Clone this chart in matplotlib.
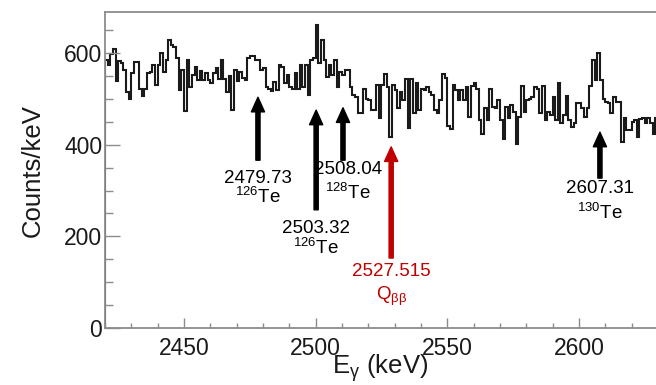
import numpy as np
import matplotlib
matplotlib.use("Agg")
import matplotlib.pyplot as plt
from matplotlib.ticker import MultipleLocator

plt.rcParams['font.family'] = ['Liberation Sans', 'DejaVu Sans']
plt.rcParams['mathtext.fontset'] = 'custom'
plt.rcParams['mathtext.rm'] = 'Liberation Sans'
plt.rcParams['mathtext.it'] = 'Liberation Sans'
plt.rcParams['mathtext.default'] = 'regular'

# Histogram: 1 keV bins starting at 2420 keV
bin_start = 2420
counts = [
    585, 573, 598, 609, 538, 582, 577, 562, 515, 500,
    555, 580, 580, 522, 506, 522, 555, 559, 573, 529,
    573, 600, 559, 584, 627, 617, 613, 588, 519, 562,
    474, 585, 526, 551, 569, 540, 561, 540, 555, 540,
    533, 556, 566, 542, 585, 542, 515, 549, 475, 562,
    539, 559, 544, 540, 588, 593, 593, 584, 584, 562,
    566, 526, 522, 517, 537, 519, 573, 569, 533, 551,
    526, 522, 555, 522, 573, 526, 573, 508, 584, 588,
    660, 577, 627, 584, 548, 573, 551, 584, 526, 559,
    551, 562, 562, 526, 508, 504, 468, 468, 522, 500,
    497, 475, 475, 529, 457, 529, 553, 526, 417, 529,
    519, 479, 515, 497, 542, 437, 542, 468, 533, 475,
    522, 519, 526, 515, 508, 475, 468, 497, 553, 544,
    440, 433, 529, 519, 497, 519, 497, 526, 461, 527,
    533, 522, 453, 424, 479, 453, 520, 482, 479, 497,
    453, 413, 482, 457, 486, 471, 402, 461, 527, 471,
    497, 500, 504, 526, 522, 468, 527, 453, 471, 464,
    504, 453, 533, 446, 464, 506, 453, 439, 446, 490,
    490, 479, 459, 479, 527, 585, 540, 600, 540, 500,
    493, 490, 469, 503, 493, 493, 406, 457, 432, 432,
    450, 453, 417, 455, 457, 446, 458, 446, 424, 457,
]
edges = np.arange(bin_start, bin_start + len(counts) + 1)

# Annotations: label, isotope line, arrow x, arrow tip y, arrow tail y, text x, text y, colour
ann_labels = ["2479.73", "2503.32", "2508.04", "2527.515", "2607.31"]
ann_sub = ["$^{126}$Te", "$^{126}$Te", "$^{128}$Te", "Q$_{\\beta\\beta}$", "$^{130}$Te"]
ann_x = [2478.1, 2500.2, 2510.4, 2528.7, 2608.0]
ann_tip = [503, 475, 480, 395, 427]
ann_tail = [366, 258, 366, 153, 327]
ann_tx = [2478.1, 2500.2, 2512.3, 2528.7, 2608.0]
ann_ty = [327, 218, 345, 123, 305]
ann_sy = [286, 175, 294, 70, 251]
ann_col = ["black", "black", "black", "#c00000", "black"]

fig = plt.figure(figsize=(6.56, 3.85), dpi=100)
ax = fig.add_axes([105/656, 56.7/385, (656-105)/656, (328.3-12.3)/385])

ax.stairs(counts, edges, color='#1a1a1a', lw=1.5)

ax.set_xlim(2420, 2629.3)
ax.set_ylim(0, 688)
ax.xaxis.set_major_locator(MultipleLocator(50))
ax.xaxis.set_minor_locator(MultipleLocator(10))
ax.yaxis.set_major_locator(MultipleLocator(200))
ax.yaxis.set_minor_locator(MultipleLocator(50))

spine_col = '#8c8c8c'
for s in ['left', 'bottom', 'top']:
    ax.spines[s].set_color(spine_col)
    ax.spines[s].set_linewidth(1.3)
ax.spines['right'].set_visible(False)

ax.tick_params(axis='x', which='major', direction='in', length=7, width=1, color=spine_col,
               labelsize=16.5, pad=6, top=False, labelcolor='#1a1a1a')
ax.tick_params(axis='x', which='minor', direction='in', length=3.5, width=1, color=spine_col, top=False)
ax.tick_params(axis='y', which='major', direction='in', length=11, width=1, color=spine_col,
               labelsize=16.5, pad=2, right=False, labelcolor='#1a1a1a')
ax.tick_params(axis='y', which='minor', direction='in', length=5.5, width=1, color=spine_col, right=False)

ax.set_xlabel("E$_{\\gamma}$ (keV)", fontsize=18.5, labelpad=-5, color='#1a1a1a')
ax.set_ylabel("Counts/keV", fontsize=18.5, labelpad=14, color='#1a1a1a')

for lab, sub, x, tip, tail, tx, ty, sy, col in zip(ann_labels, ann_sub, ann_x, ann_tip, ann_tail,
                                                  ann_tx, ann_ty, ann_sy, ann_col):
    ax.annotate('', xy=(x, tip), xytext=(x, tail),
                arrowprops=dict(facecolor=col, edgecolor=col, width=3.0, headwidth=9.5,
                                headlength=10.5, shrink=0))
    ax.text(tx, ty, lab, ha='center', va='center', fontsize=13.5, color=col)
    ax.text(tx, sy, sub, ha='center', va='center', fontsize=13.5, color=col)

fig.savefig("out.png", dpi=100)
